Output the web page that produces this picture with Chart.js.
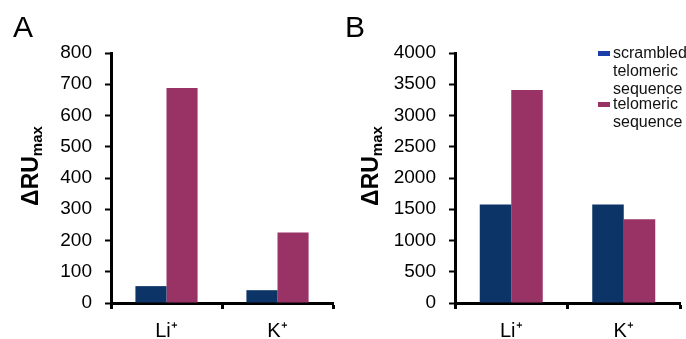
<!DOCTYPE html>
<html>
<head>
<meta charset="utf-8">
<script src="https://cdn.jsdelivr.net/npm/chart.js@4"></script>
<style>
  body { margin: 0; background: #fff; font-family: "Liberation Sans", Arial, sans-serif; }
  #wrap { position: relative; width: 686px; height: 339px; overflow: hidden; }
  canvas { position: absolute; top: 0; }
  .panel { position: absolute; font-size: 30px; color: #000; }
  #legend { position: absolute; left: 598px; top: 44px; font-size: 16px; line-height: 18px; color: #111; white-space: nowrap; }
  #legend .item { position: relative; padding-left: 15px; }
  #legend .box { position: absolute; left: 0; top: 7px; width: 12px; height: 5px; }
</style>
</head>
<body>
<div id="wrap">
  <canvas id="chartA" width="343" height="339" style="left:0"></canvas>
  <canvas id="chartB" width="343" height="339" style="left:343px"></canvas>
  <div class="panel" style="left:13px; top:10px">A</div>
  <div class="panel" style="left:345px; top:10px">B</div>
  <div id="legend">
    <div class="item"><span class="box" style="background:#1a3fa8"></span>scrambled<br>telomeric<br>sequence</div>
    <div class="item" style="margin-top:-3px"><span class="box" style="background:#993366"></span>telomeric<br>sequence</div>
  </div>
</div>
<script>
const categories = ['Li⁺', 'K⁺'];
const scrambledA = [54, 41];
const telomericA = [688, 226];
const scrambledB = [1578, 1578];
const telomericB = [3410, 1339];

const navy = '#0c3466';
const plum = '#993366';
const fonte = '"Liberation Sans", Arial, sans-serif';

// draws the rotated y title with the "max" subscript
const yTitle = {
    id: 'yTitle',
    afterDraw(chart, args, opts) {
        const ctx = chart.ctx;
        const mid = (chart.chartArea.top + chart.chartArea.bottom) / 2 - 12;
        ctx.save();
        ctx.translate(opts.x, mid);
        ctx.rotate(-Math.PI / 2);
        ctx.fillStyle = '#000';
        ctx.textBaseline = 'alphabetic';
        ctx.font = 'bold 23px ' + fonte;
        const w1 = ctx.measureText('ΔRU').width;
        ctx.font = 'bold 15px ' + fonte;
        const w2 = ctx.measureText('max').width;
        let x = -(w1 + w2) / 2;
        ctx.font = 'bold 23px ' + fonte;
        ctx.fillText('ΔRU', x, 0);
        ctx.font = 'bold 15px ' + fonte;
        ctx.fillText('max', x + w1, 4);
        ctx.restore();
    }
};

function criarGrafico(id, serie1, serie2, max, passo, yWidth, padRight, titleX) {
    const ctx = document.getElementById(id).getContext('2d');
    return new Chart(ctx, {
        type: 'bar',
        data: {
            labels: categories,
            datasets: [
                { label: 'scrambled telomeric sequence', data: serie1, backgroundColor: navy, borderWidth: 0 },
                { label: 'telomeric sequence', data: serie2, backgroundColor: plum, borderWidth: 0 }
            ]
        },
        options: {
            responsive: false,
            animation: false,
            devicePixelRatio: 1,
            layout: { padding: { top: 53, right: padRight, left: 0, bottom: 0 } },
            datasets: { bar: { categoryPercentage: 0.56, barPercentage: 1 } },
            plugins: {
                legend: { display: false },
                tooltip: { enabled: false },
                yTitle: { x: titleX }
            },
            scales: {
                x: {
                    border: { color: '#000', width: 3 },
                    grid: { offset: true, drawOnChartArea: false, drawTicks: true, tickLength: 6, tickColor: '#000', tickWidth: 3 },
                    ticks: { color: '#000', padding: 10, font: { size: 20, family: fonte } },
                    afterFit: s => { s.height = 36; }
                },
                y: {
                    min: 0,
                    max: max,
                    border: { color: '#000', width: 3 },
                    grid: { drawOnChartArea: false, drawTicks: true, tickLength: 6, tickColor: '#000', tickWidth: 2 },
                    ticks: { stepSize: passo, color: '#000', padding: 13, font: { size: 19, family: fonte }, callback: v => String(v) },
                    afterFit: s => { s.width = yWidth; }
                }
            }
        },
        plugins: [yTitle]
    });
}

criarGrafico('chartA', scrambledA, telomericA, 800, 100, 111, 10, 38);
criarGrafico('chartB', scrambledB, telomericB, 4000, 500, 112, 6, 35);
</script>
</body>
</html>
